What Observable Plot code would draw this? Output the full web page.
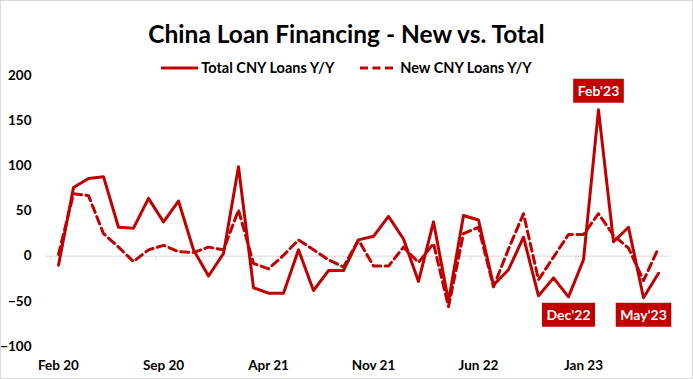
<!DOCTYPE html>
<html><head><meta charset="utf-8">
<script src="https://cdn.jsdelivr.net/npm/d3@7"></script>
<script src="https://cdn.jsdelivr.net/npm/@observablehq/plot@0.6"></script>
<style>
html,body{margin:0;padding:0;background:#fff;}
#wrap{position:relative;width:693px;height:379px;font-family:Lato,"Open Sans",sans-serif;overflow:hidden;background:#fff}
#title{position:absolute;left:0;width:693px;top:20px;text-align:center;font-weight:700;font-size:24.5px;line-height:28px;color:#000}
#legend{position:absolute;top:59px;left:0;width:693px;display:flex;justify-content:center;gap:26px;font-weight:700;font-size:14.5px;line-height:17px;color:#000}
#legend .item{display:flex;align-items:center;gap:3px}
#border{position:absolute;left:0;top:0;width:691px;height:377px;border:1px solid #d9d9d9;pointer-events:none}
svg{display:block}
</style>
</head><body>
<div id="wrap">
  <div id="chart"></div>
  <div id="title">China Loan Financing - New vs. Total</div>
  <div id="legend"></div>
  <div id="border"></div>
</div>
<script>
const months = ["2020-02","2020-03","2020-04","2020-05","2020-06","2020-07","2020-08","2020-09","2020-10","2020-11","2020-12",
"2021-01","2021-02","2021-03","2021-04","2021-05","2021-06","2021-07","2021-08","2021-09","2021-10","2021-11","2021-12",
"2022-01","2022-02","2022-03","2022-04","2022-05","2022-06","2022-07","2022-08","2022-09","2022-10","2022-11","2022-12",
"2023-01","2023-02","2023-03","2023-04","2023-05","2023-06"];
const totalLoans = [-10,76,86,88,32,31,64,38,61,7,-22,3,99,-35,-41,-41,7,-38,-16,-16,18,22,44,19,-28,38,-50,45,40,-32,-15,21,-44,-24,-45,-4,162,16,32,-46,-19];
const newLoans = [2,69,67,25,10,-6,7,12,5,4,10,7,51,-8,-14,1,18,7,-4,-12,18,-11,-11,10,-7,14,-56,25,32,-34,8,47,-26,-1,24,24,47,23,9,-27,9];
const seriesNames = ["Total CNY Loans Y/Y","New CNY Loans Y/Y"];
const tickMonths = ["2020-02","2020-09","2021-04","2021-11","2022-06","2023-01"];
const tickLabels = ["Feb 20","Sep 20","Apr 21","Nov 21","Jun 22","Jan 23"];
const yTicks = [-100,-50,0,50,100,150,200];
const annMonths = ["2023-02","2022-12","2023-05"];
const annLabels = ["Feb'23","Dec'22","May'23"];
const annValues = [182,-66,-66];

const red = "#C00000";
const data = months.map((m,i)=>({m, total: totalLoans[i], neu: newLoans[i]}));
const ann = annMonths.map((m,i)=>({m, v: annValues[i], label: annLabels[i]}));

// legend
const legend = document.getElementById("legend");
seriesNames.forEach((name,i)=>{
  const it = document.createElement("div"); it.className="item";
  it.innerHTML = `<svg width="37" height="6"><line x1="0" x2="37" y1="3" y2="3" stroke="${red}" stroke-width="3" ${i===1?'stroke-dasharray="8,4.5"':''}/></svg><span>${name}</span>`;
  legend.appendChild(it);
});

const chart = Plot.plot({
  width: 693, height: 379,
  marginTop: 75, marginBottom: 33, marginLeft: 45, marginRight: 23,
  style: {fontFamily: "Lato, 'Open Sans', sans-serif", fontSize: "13px", fontWeight: 700, color: "#000", background: "transparent", overflow: "visible"},
  x: {type: "point", domain: months, padding: 0.5, label: null},
  y: {domain: [-100, 200], label: null},
  marks: [
    Plot.ruleY([0], {stroke: "#d9d9d9", strokeWidth: 1}),
    Plot.ruleX(tickMonths, {x: d => d, y1: 0, y2: -5, dx: -7.6, stroke: "#d9d9d9"}),
    Plot.axisY(yTicks, {tickSize: 0, tickPadding: 14, fill: "#000", fontWeight: 700, fontSize: 13.5}),
    Plot.axisX(tickMonths, {tickSize: 0, tickPadding: 14, anchor: "bottom", fill: "#000", fontWeight: 700, fontSize: 13.5,
      tickFormat: d => tickLabels[tickMonths.indexOf(d)]}),
    Plot.line(data, {x: "m", y: "neu", stroke: red, strokeWidth: 3, strokeDasharray: "8,4.5"}),
    Plot.line(data, {x: "m", y: "total", stroke: red, strokeWidth: 3}),
    Plot.text(ann, {x: "m", y: "v", text: "label", fill: "white", fontWeight: 700, fontSize: 14, className: "ann"})
  ]
});
document.getElementById("chart").appendChild(chart);

// background boxes for annotations
document.querySelectorAll("g.ann text").forEach(t => {
  const b = t.getBBox();
  const r = document.createElementNS("http://www.w3.org/2000/svg","rect");
  const px = 4.5, py = 3.5;
  r.setAttribute("x", b.x - px); r.setAttribute("y", b.y - py);
  r.setAttribute("width", b.width + 2*px); r.setAttribute("height", b.height + 2*py);
  r.setAttribute("fill", red);
  const tr = t.getAttribute("transform"); if (tr) r.setAttribute("transform", tr);
  t.parentNode.insertBefore(r, t);
});
</script>
</body></html>
